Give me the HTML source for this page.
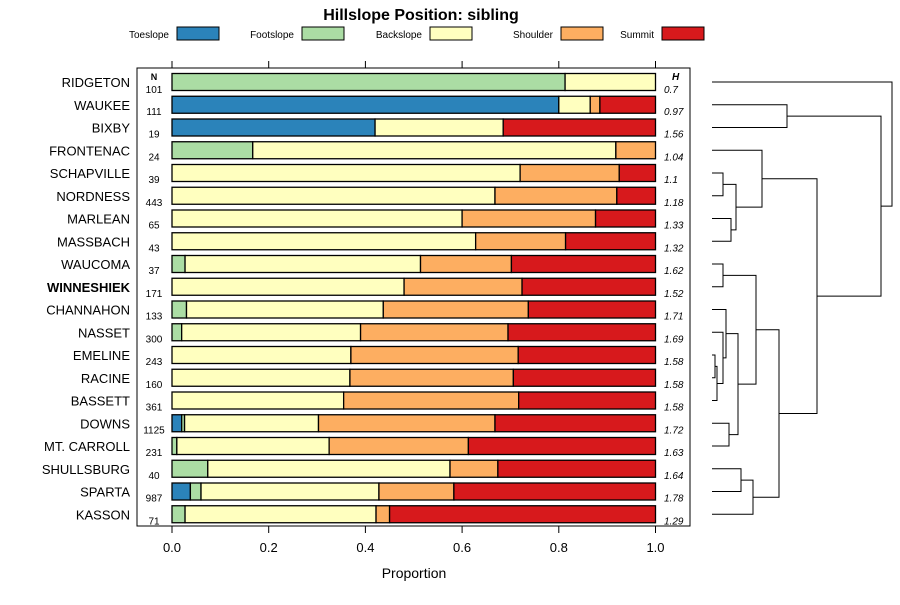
<!DOCTYPE html>
<html><head><meta charset="utf-8"><style>
body{margin:0;background:#fff;}
svg text{font-family:"Liberation Sans",sans-serif;}
</style></head><body>
<svg id="chart" width="900" height="600" xmlns="http://www.w3.org/2000/svg">
<rect width="900" height="600" fill="#fff"/>
<text x="421" y="20" text-anchor="middle" font-size="16" font-weight="bold">Hillslope Position: sibling</text>
<g id="legend"></g>
<rect x="137" y="68" width="553" height="458" fill="none" stroke="#000" stroke-width="1"/>
<g id="bars"></g><g id="axis"></g><g id="dendro"></g>
<text x="414" y="578" text-anchor="middle" font-size="14">Proportion</text>
</svg>
<script>
const classes=["Toeslope","Footslope","Backslope","Shoulder","Summit"];
const colors=["#2b83ba","#abdda4","#ffffbf","#fdae61","#d7191c"];
const series=["RIDGETON","WAUKEE","BIXBY","FRONTENAC","SCHAPVILLE","NORDNESS","MARLEAN","MASSBACH","WAUCOMA","WINNESHIEK","CHANNAHON","NASSET","EMELINE","RACINE","BASSETT","DOWNS","MT. CARROLL","SHULLSBURG","SPARTA","KASSON"];
const nVals=[101,111,19,24,39,443,65,43,37,171,133,300,243,160,361,1125,231,40,987,71];
const hVals=["0.7","0.97","1.56","1.04","1.1","1.18","1.33","1.32","1.62","1.52","1.71","1.69","1.58","1.58","1.58","1.72","1.63","1.64","1.78","1.29"];
const toe=[0,0.80,0.42,0,0,0,0,0,0,0,0,0,0,0,0,0.02,0,0,0.038,0];
const foot=[0.813,0,0,0.167,0,0,0,0,0.027,0,0.03,0.02,0,0,0,0.006,0.01,0.074,0.022,0.027];
const back=[0.187,0.065,0.265,0.751,0.72,0.668,0.60,0.628,0.487,0.48,0.407,0.37,0.37,0.368,0.355,0.277,0.315,0.501,0.368,0.395];
const shoulder=[0,0.02,0,0.082,0.205,0.252,0.276,0.186,0.188,0.244,0.30,0.305,0.346,0.338,0.362,0.365,0.288,0.099,0.155,0.028];
const summit=[0,0.115,0.315,0,0.075,0.08,0.124,0.186,0.298,0.276,0.263,0.305,0.284,0.294,0.283,0.332,0.387,0.326,0.417,0.55];
const ticks=[0,0.2,0.4,0.6,0.8,1.0];
const tickLabels=["0.0","0.2","0.4","0.6","0.8","1.0"];
const NS="http://www.w3.org/2000/svg";
const X0=172,X1=655.5,Y0=82,DY=22.75,BH=17;
const x=v=>X0+v*(X1-X0);
const y=i=>Y0+i*DY;
function mk(t,a,p){const e=document.createElementNS(NS,t);for(const k in a)e.setAttribute(k,a[k]);p.appendChild(e);return e;}
const lg=document.getElementById('legend');
const swx=[177,302,430,561,662];
classes.forEach((c,i)=>{
 const t=mk('text',{x:swx[i]-8,y:38,'font-size':10,'text-anchor':'end'},lg);t.textContent=c;
 
 
 const r=mk('rect',{x:swx[i],y:27,width:42,height:13,fill:colors[i],stroke:'#000'},lg);
 
 
});
const bars=document.getElementById('bars');
const sers=[toe,foot,back,shoulder,summit];
series.forEach((s,i)=>{
 const cy=y(i);let acc=0;
 const g=mk('g',{},bars);
 
 
 sers.forEach((arr,k)=>{const v=arr[i];if(v<=0)return;
  const r=mk('rect',{x:x(acc),y:cy-BH/2,width:x(acc+v)-x(acc),height:BH,fill:colors[k],stroke:'#000','stroke-width':1.3},g);
  
  
  acc+=v;});
 const l=mk('text',{x:130,y:cy+5,'text-anchor':'end','font-size':13,'font-weight':s=="WINNESHIEK"?'bold':'normal'},g);l.textContent=s;
 
 
 const n=mk('text',{x:154,y:cy+(i==0?11:10),'text-anchor':'middle','font-size':10},g);n.textContent=nVals[i];
 
 
 const h=mk('text',{x:664,y:cy+(i==0?11:10),'font-size':10,'font-style':'italic'},g);h.textContent=hVals[i];
 
 
});
const nh=mk('text',{x:154,y:80,'text-anchor':'middle','font-size':9,'font-weight':'bold'},bars);nh.textContent='N';

const hh=mk('text',{x:672,y:80,'font-size':10,'font-weight':'bold','font-style':'italic'},bars);hh.textContent='H';

const ax=document.getElementById('axis');
ticks.forEach((t,i)=>{
 mk('line',{x1:x(t),x2:x(t),y1:526,y2:533,stroke:'#000'},ax);
 mk('line',{x1:x(t),x2:x(t),y1:61,y2:68,stroke:'#000'},ax);
 const tl=mk('text',{x:x(t),y:552,'text-anchor':'middle','font-size':13},ax);tl.textContent=tickLabels[i];
 
});
const tree=[0,[[1,2,787],[[3,[[4,5,723],[6,7,731],736],762],[[[8,9,723],[[10,[11,[[12,13,715],14,717],723],726],[15,16,729],738],756],[[17,18,741],19,753],779],817],881],892];
const dg=document.getElementById('dendro');
function draw(n){
 if(typeof n==='number')return{x:712,y:y(n)};
 const a=draw(n[0]),b=draw(n[1]),h=n[2];
 mk('path',{d:`M${a.x},${a.y}H${h}V${b.y}H${b.x}`,fill:'none',stroke:'#000','stroke-width':1},dg);
 return{x:h,y:(a.y+b.y)/2};
}
draw(tree);
</script>
</body></html>
